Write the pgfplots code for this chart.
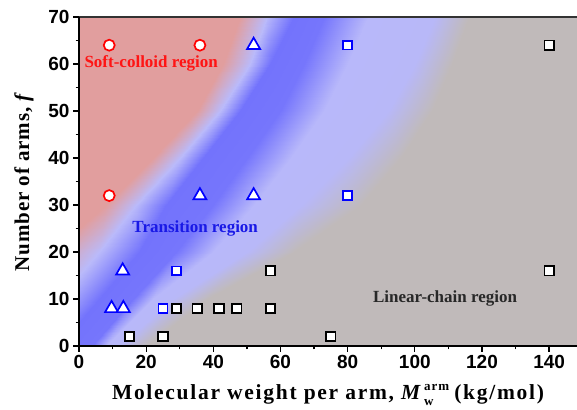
\documentclass[border=0pt]{standalone}
\usepackage{fontspec}
\setmainfont{Liberation Serif}
\newfontfamily\arialfont{Liberation Sans}
\newfontfamily\xlabelfont[LetterSpace=8.0]{Liberation Serif}
\newfontfamily\ylabelfont[LetterSpace=4.0]{Liberation Serif}
\usepackage{amsmath}
\usepackage{pgfplots}
\pgfplotsset{compat=1.18}
\usetikzlibrary{calc}
\definecolor{softred}{RGB}{255,20,20}
\definecolor{transblue}{RGB}{25,25,230}
\definecolor{lintext}{RGB}{40,40,40}
\newcommand{\Mwarm}{\textit{M}\kern1.5pt\rlap{\raisebox{-6.5pt}{\fontsize{13}{13}\selectfont w}}\raisebox{9pt}{\fontsize{13}{13}\selectfont arm}}
\begin{document}
\begin{tikzpicture}
\begin{axis}[
  scale only axis, width=498pt, height=329pt,
  xmin=0, xmax=148.3, ymin=0, ymax=70,
  axis lines*=left,
  axis line style={-, line width=1.6pt},
  every outer x axis line/.append style={-},
  every outer y axis line/.append style={-},
  xtick={0,20,...,140}, ytick={0,10,...,70},
  minor x tick num=1, minor y tick num=1,
  tick align=outside,
  major tick length=6pt, minor tick length=3.5pt,
  every tick/.style={black, line width=1.3pt},
  /pgf/number format/assume math mode=true,
  tick label style={font=\arialfont\bfseries\fontsize{19}{22}\selectfont},
  xlabel={Molecular weight per arm, \Mwarm\kern5pt(kg/mol)},
  ylabel={Number of arms, \textit{f}},
  xlabel style={font=\xlabelfont\bfseries\fontsize{21.5}{24}\selectfont, yshift=-8pt},
  ylabel style={font=\ylabelfont\bfseries\fontsize{21}{24}\selectfont, yshift=8pt},
  colormap={regions}{rgb255(0cm)=(225,158,158); rgb255(1cm)=(186,186,250); rgb255(2cm)=(115,115,252); rgb255(3cm)=(118,118,252); rgb255(4cm)=(184,184,250); rgb255(5cm)=(184,184,248); rgb255(6cm)=(192,186,186)},
  point meta min=0, point meta max=6,
  clip=true,
  axis on top,
]
\addplot[surf, shader=interp, mesh/cols=9, point meta=explicit] table[meta=c] {
x y c
-150 0 0
-40 0 0
-18 0 1
-6 0 2
4 0 3
8 0 4
12 0 5
20 0 6
300 0 6
-150 10 0
-25 10 0
-6 10 1
6 10 2
16 10 3
22 10 4
28 10 5
38 10 6
300 10 6
-150 20 0
-8 20 0
6 20 1
18 20 2
29 20 3
40 20 4
50 20 5
64 20 6
300 20 6
-150 30 0
8 30 0
17 30 1
26 30 2
40 30 3
52 30 4
66 30 5
84 30 6
300 30 6
-150 40 0
22 40 0
30 40 1
37 40 2
50 40 3
63 40 4
80 40 5
96 40 6
300 40 6
-150 50 0
35 50 0
42 50 1
48 50 2
60 50 3
73 50 4
92 50 5
105 50 6
300 50 6
-150 60 0
43 60 0
51 60 1
57 60 2
67 60 3
80 60 4
100 60 5
111 60 6
300 60 6
-150 70 0
48 70 0
56 70 1
64 70 2
73 70 3
86 70 4
106 70 5
116 70 6
300 70 6
};
% soft-colloid (red circles)
\addplot[only marks, mark=*, mark size=5.5pt, mark options={draw=red, fill=white, line width=1.7pt}] coordinates {(9,64) (36,64) (9,32)};
% transition (blue triangles)
\addplot[only marks, mark=triangle*, mark size=7.5pt, mark options={draw=blue, fill=white, line width=1.7pt}] coordinates {(52,64) (36,32) (52,32) (13,16) (9.7,8) (13.2,8)};
% transition (blue squares)
\addplot[only marks, mark=square*, mark size=4.4pt, mark options={draw=blue, fill=white, line width=1.7pt}] coordinates {(80,64) (80,32) (29,16) (25,8)};
% linear chain (black squares)
\addplot[only marks, mark=square*, mark size=4.7pt, mark options={draw=black, fill=white, line width=1.7pt}] coordinates {(140,64) (57,16) (140,16) (29,8) (35.2,8) (41.7,8) (47,8) (57,8) (15,2) (25,2) (75,2)};
\node[text=softred, font=\bfseries\fontsize{17}{19}\selectfont] at (axis cs:21.5,60.2) {Soft-colloid region};
\node[text=transblue, font=\bfseries\fontsize{17}{19}\selectfont] at (axis cs:34.6,25) {Transition region};
\node[text=lintext, font=\bfseries\fontsize{17}{19}\selectfont] at (axis cs:109,10.2) {Linear-chain region};
\draw[line width=1.6pt, black!80] (rel axis cs:0,1) -- (rel axis cs:1,1);
\coordinate (bl) at (rel axis cs:0,0);
\coordinate (tr) at (rel axis cs:1,1);
\end{axis}
\pgfresetboundingbox
\path ($(bl)+(-79pt,-64pt)$) rectangle ($(tr)+(0pt,17pt)$);
\end{tikzpicture}
\end{document}
